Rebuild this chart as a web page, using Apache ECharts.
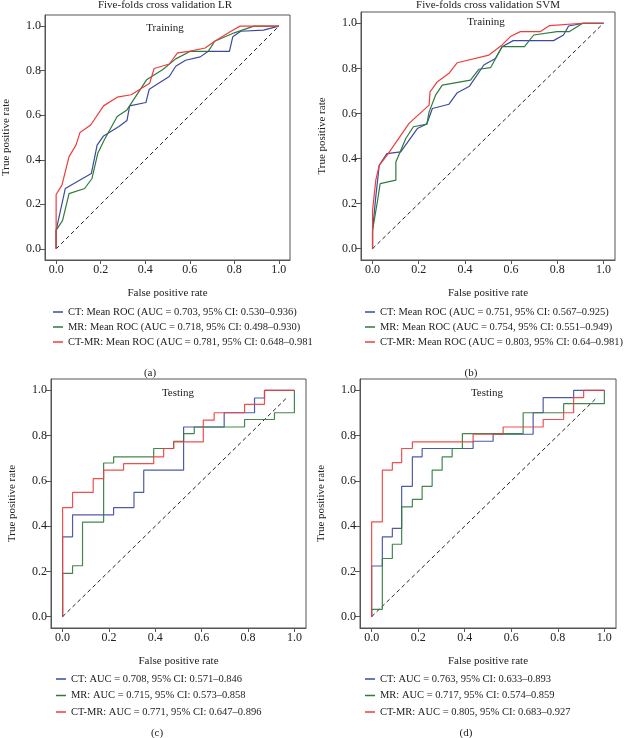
<!DOCTYPE html>
<html>
<head>
<meta charset="utf-8">
<script src="https://cdn.jsdelivr.net/npm/echarts@6/dist/echarts.min.js"></script>
<style>
  html, body { margin: 0; padding: 0; background: #fff; }
  #chart { width: 626px; height: 738px; }
</style>
</head>
<body>
<div id="chart"></div>
<script>
// tick values shared by every panel
var tickValues = [0, 0.2, 0.4, 0.6, 0.8, 1.0];

// (a) five-fold LR, training: [fpr, tpr]
var lrTrainCT = [[0,0],[0,0.083],[0.041,0.271],[0.158,0.338],[0.184,0.466],[0.213,0.507],[0.282,0.549],[0.318,0.576],[0.33,0.642],[0.403,0.657],[0.418,0.717],[0.508,0.774],[0.537,0.82],[0.581,0.847],[0.647,0.862],[0.683,0.887],[0.778,0.887],[0.793,0.952],[0.829,0.977],[0.931,0.982],[1,1]];
var lrTrainMR = [[0,0],[0,0.083],[0.029,0.128],[0.058,0.248],[0.128,0.271],[0.161,0.316],[0.187,0.429],[0.216,0.489],[0.274,0.594],[0.318,0.624],[0.406,0.759],[0.479,0.805],[0.537,0.853],[0.603,0.887],[0.683,0.887],[0.712,0.932],[0.8,0.97],[0.888,1],[1,1]];
var lrTrainCTMR = [[0,0],[0,0.244],[0.026,0.286],[0.058,0.414],[0.089,0.466],[0.107,0.522],[0.155,0.556],[0.213,0.642],[0.274,0.681],[0.337,0.692],[0.391,0.726],[0.42,0.744],[0.44,0.81],[0.508,0.83],[0.545,0.88],[0.596,0.887],[0.669,0.902],[0.712,0.932],[0.785,0.977],[0.826,1],[1,1]];

// (b) five-fold SVM, training
var svmTrainCT = [[0,0],[0,0.081],[0.014,0.23],[0.029,0.37],[0.062,0.422],[0.122,0.43],[0.194,0.533],[0.235,0.553],[0.259,0.622],[0.331,0.641],[0.367,0.692],[0.42,0.721],[0.482,0.815],[0.532,0.844],[0.561,0.896],[0.609,0.923],[0.784,0.923],[0.827,0.948],[0.849,0.988],[0.914,1],[1,1]];
var svmTrainMR = [[0,0],[0,0.081],[0.022,0.215],[0.033,0.289],[0.101,0.304],[0.101,0.385],[0.144,0.489],[0.177,0.541],[0.235,0.553],[0.245,0.607],[0.273,0.681],[0.302,0.726],[0.424,0.748],[0.46,0.796],[0.511,0.803],[0.561,0.896],[0.658,0.896],[0.698,0.948],[0.799,0.963],[0.853,0.963],[0.91,1],[1,1]];
var svmTrainCTMR = [[0,0],[0,0.17],[0.014,0.304],[0.029,0.37],[0.068,0.422],[0.158,0.556],[0.245,0.637],[0.249,0.696],[0.281,0.741],[0.331,0.778],[0.367,0.825],[0.504,0.859],[0.561,0.904],[0.597,0.941],[0.64,0.963],[0.727,0.963],[0.767,0.99],[0.91,1],[1,1]];

// (c) testing, step curves (drawn with step:'end')
var testCCT = [[0,0],[0,0.353],[0.043,0.45],[0.22,0.482],[0.308,0.549],[0.35,0.647],[0.522,0.838],[0.697,0.901],[0.828,0.966],[0.871,1],[1,1]];
var testCMR = [[0,0],[0,0.191],[0.043,0.225],[0.086,0.418],[0.177,0.679],[0.22,0.706],[0.393,0.743],[0.479,0.775],[0.522,0.809],[0.568,0.838],[0.785,0.871],[0.914,0.901],[1,1]];
var testCCTMR = [[0,0],[0,0.482],[0.043,0.549],[0.132,0.61],[0.177,0.647],[0.263,0.676],[0.393,0.706],[0.436,0.743],[0.479,0.772],[0.607,0.868],[0.654,0.901],[0.785,0.938],[0.871,1],[1,1]];

// (d) testing
var testDCT = [[0,0],[0,0.224],[0.046,0.353],[0.089,0.39],[0.129,0.576],[0.175,0.706],[0.217,0.743],[0.436,0.775],[0.522,0.806],[0.694,0.901],[0.737,0.968],[0.868,1],[1,1]];
var testDMR = [[0,0],[0,0.032],[0.046,0.257],[0.089,0.32],[0.129,0.485],[0.175,0.518],[0.217,0.576],[0.26,0.647],[0.303,0.706],[0.346,0.743],[0.39,0.809],[0.651,0.901],[0.825,0.941],[1,1]];
var testDCTMR = [[0,0],[0,0.419],[0.046,0.647],[0.089,0.681],[0.129,0.743],[0.175,0.772],[0.436,0.806],[0.565,0.838],[0.737,0.871],[0.825,0.901],[0.868,0.968],[0.911,1],[1,1]];

var diagTrain = [[0,0],[1,1]];
var diagTest = [[0,0],[0.97,0.97]];

var legendA = ['CT: Mean ROC (AUC = 0.703, 95% CI: 0.530\u20130.936)', 'MR: Mean ROC (AUC = 0.718, 95% CI: 0.498\u20130.930)', 'CT-MR: Mean ROC (AUC = 0.781, 95% CI: 0.648\u20130.981'];
var legendB = ['CT: Mean ROC (AUC = 0.751, 95% CI: 0.567\u20130.925)', 'MR: Mean ROC (AUC = 0.754, 95% CI: 0.551\u20130.949)', 'CT-MR: Mean ROC (AUC = 0.803, 95% CI: 0.64\u20130.981)'];
var legendC = ['CT: AUC = 0.708, 95% CI: 0.571\u20130.846', 'MR: AUC = 0.715, 95% CI: 0.573\u20130.858', 'CT-MR: AUC = 0.771, 95% CI: 0.647\u20130.896'];
var legendD = ['CT: AUC = 0.763, 95% CI: 0.633\u20130.893', 'MR: AUC = 0.717, 95% CI: 0.574\u20130.859', 'CT-MR: AUC = 0.805, 95% CI: 0.683\u20130.927'];

var FONT = '"Liberation Serif", "DejaVu Serif", serif';
var colBlue = '#3b4a9e', colGreen = '#2f7a3c', colRed = '#f03c3c';
var frame = '#555';

function makeX(i) {
    return {
        type: 'value', gridIndex: i, min: -0.05, max: 1.05,
        name: 'False positive rate', nameLocation: 'middle', nameGap: 28,
        nameTextStyle: {fontFamily: FONT, fontSize: 11, color: '#222'},
        axisLine: {show: true, onZero: false, lineStyle: {color: frame}},
        axisTick: {show: true, length: 4, customValues: tickValues, lineStyle: {color: frame}},
        axisLabel: {customValues: tickValues, margin: 4, fontFamily: FONT, fontSize: 12, color: '#222',
            formatter: function (v) { return v.toFixed(1); }},
        splitLine: {show: false}
    };
}
function makeY(i) {
    return {
        type: 'value', gridIndex: i, min: -0.05, max: 1.05,
        name: 'True positive rate', nameLocation: 'middle', nameGap: 33,
        nameTextStyle: {fontFamily: FONT, fontSize: 11, color: '#222'},
        axisLine: {show: true, onZero: false, lineStyle: {color: frame}},
        axisTick: {show: true, length: 5, customValues: tickValues, lineStyle: {color: frame}},
        axisLabel: {customValues: tickValues, margin: 4, fontFamily: FONT, fontSize: 12, color: '#222',
            formatter: function (v) { return v.toFixed(1); }},
        splitLine: {show: false}
    };
}
function curve(name, data, color, i, step) {
    return {
        name: name, type: 'line', xAxisIndex: i, yAxisIndex: i,
        data: data, step: step ? 'end' : false, showSymbol: false, symbol: 'none',
        lineStyle: {color: color, width: 1.2, opacity: step ? 0.9 : 1},
        itemStyle: {color: color}, animation: false, z: 3
    };
}
function diag(data, i) {
    return {
        type: 'line', xAxisIndex: i, yAxisIndex: i, data: data, symbol: 'none',
        lineStyle: {color: '#222', width: 1, type: [4, 3]}, animation: false, z: 2
    };
}
function legendAt(names, left, top, gap) {
    return {
        data: names, orient: 'vertical', left: left, top: top, itemGap: gap,
        icon: 'rect', itemWidth: 10, itemHeight: 1.5,
        textStyle: {fontFamily: FONT, fontSize: 10.5, color: '#222', lineHeight: 12},
        selectedMode: false
    };
}
function txt(text, x, y, size) {
    return {type: 'text', x: x, y: y, silent: true,
        style: {text: text, font: size + 'px ' + FONT, fill: '#222', align: 'center', verticalAlign: 'middle'}};
}

var chart = echarts.init(document.getElementById('chart'));
var option = {
    backgroundColor: '#fff',
    grid: [
        {left: 40, top: 15, width: 250, height: 245, show: true, borderColor: frame, borderWidth: 1},
        {left: 361, top: 12, width: 254, height: 248, show: true, borderColor: frame, borderWidth: 1},
        {left: 51, top: 379, width: 255, height: 249, show: true, borderColor: frame, borderWidth: 1},
        {left: 360, top: 379, width: 256, height: 249, show: true, borderColor: frame, borderWidth: 1}
    ],
    xAxis: [makeX(0), makeX(1), makeX(2), makeX(3)],
    yAxis: [makeY(0), makeY(1), makeY(2), makeY(3)],
    legend: [
        legendAt(legendA, 48, 301, 3),
        legendAt(legendB, 360, 301, 3),
        legendAt(legendC, 51, 668, 4.5),
        legendAt(legendD, 360, 668, 4.5)
    ],
    series: [
        diag(diagTrain, 0),
        curve(legendA[0], lrTrainCT, colBlue, 0, false),
        curve(legendA[1], lrTrainMR, colGreen, 0, false),
        curve(legendA[2], lrTrainCTMR, colRed, 0, false),
        diag(diagTrain, 1),
        curve(legendB[0], svmTrainCT, colBlue, 1, false),
        curve(legendB[1], svmTrainMR, colGreen, 1, false),
        curve(legendB[2], svmTrainCTMR, colRed, 1, false),
        diag(diagTest, 2),
        curve(legendC[0], testCCT, colBlue, 2, true),
        curve(legendC[1], testCMR, colGreen, 2, true),
        curve(legendC[2], testCCTMR, colRed, 2, true),
        diag(diagTest, 3),
        curve(legendD[0], testDCT, colBlue, 3, true),
        curve(legendD[1], testDMR, colGreen, 3, true),
        curve(legendD[2], testDCTMR, colRed, 3, true)
    ],
    graphic: [
        txt('Five-folds cross validation LR', 165, 5, 11),
        txt('Five-folds cross validation SVM', 488, 5, 11),
        txt('Training', 165, 28, 11),
        txt('Training', 486, 22, 11),
        txt('Testing', 178, 393, 11),
        txt('Testing', 487, 393, 11),
        txt('(a)', 150, 373, 11),
        txt('(b)', 471, 373, 11),
        txt('(c)', 157, 733, 11),
        txt('(d)', 466, 733, 11)
    ]
};
chart.setOption(option);
</script>
</body>
</html>
